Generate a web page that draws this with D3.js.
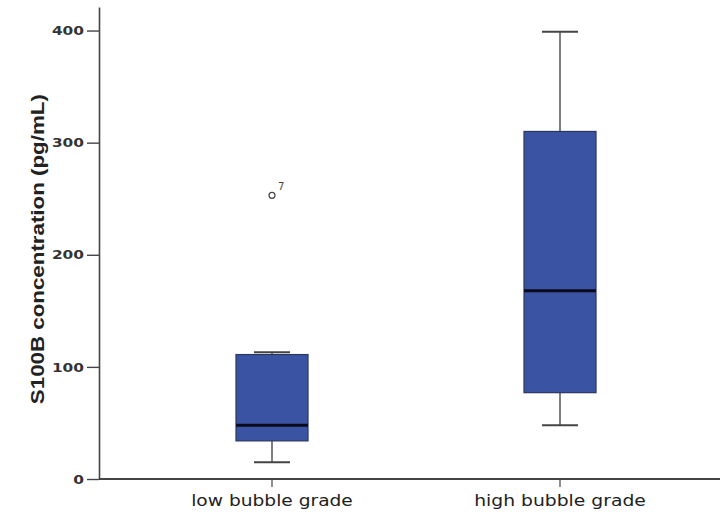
<!DOCTYPE html>
<html>
<head>
<meta charset="utf-8">
<script src="https://cdn.jsdelivr.net/npm/d3@7"></script>
<style>
    body{margin:0;background:#fff;}
</style>
</head>
<body>
<div id="chart"></div>
<script>
// box plot values (pg/mL)
var categories = ["low bubble grade", "high bubble grade"];
var whiskerLow = [15, 48];
var q1 = [34, 77];
var median = [48, 168];
var q3 = [111, 310];
var whiskerHigh = [113, 399];

var outlierCategory = ["low bubble grade"];
var outlierValues = [253];
var outlierLabels = ["7"];

var yTicks = [0, 100, 200, 300, 400];

var width = 720, height = 512;

var svg = d3.select("#chart").append("svg")
    .attr("width", width)
    .attr("height", height);

var y = d3.scaleLinear().domain([0, 421]).range([479, 7]);
var x = d3.scaleBand().domain(categories).range([128, 704])
    .paddingInner(0.75).paddingOuter(0.375);

var axisColor = "#444";

// y axis
var yAxis = d3.axisLeft(y).tickValues(yTicks).tickSize(12).tickSizeOuter(0).tickPadding(3);
var gy = svg.append("g").attr("transform", "translate(99,0)").call(yAxis);
gy.select(".domain").attr("stroke", axisColor).attr("stroke-width", 1.6);
gy.selectAll(".tick line").attr("stroke", axisColor).attr("stroke-width", 1.4);
gy.selectAll(".tick text")
    .attr("font-family", "DejaVu Sans")
    .attr("font-weight", "bold")
    .attr("font-size", 13)
    .attr("fill", "#333")
    .attr("textLength", function(d){ return String(d).length * 10.7; })
    .attr("lengthAdjust", "spacingAndGlyphs");

// x axis
var xAxis = d3.axisBottom(x).tickSize(8).tickPadding(8).tickSizeOuter(0);
var gx = svg.append("g").attr("transform", "translate(0,479)").call(xAxis);
gx.select(".domain").remove();
gx.selectAll(".tick line").attr("stroke", axisColor).attr("stroke-width", 1.2);
gx.selectAll(".tick text")
    .attr("font-family", "DejaVu Sans")
    .attr("font-size", 15)
    .attr("fill", "#222")
    .attr("textLength", function(d){ return d.length * 10.1; })
    .attr("lengthAdjust", "spacingAndGlyphs");
svg.append("line")
    .attr("x1", 99).attr("x2", width)
    .attr("y1", y(0)).attr("y2", y(0))
    .attr("stroke", axisColor).attr("stroke-width", 1.8);

// y title
svg.append("text")
    .attr("transform", "translate(44," + y(205) + ") rotate(-90)")
    .attr("text-anchor", "middle")
    .attr("font-family", "Liberation Sans")
    .attr("font-weight", "bold")
    .attr("font-size", 18)
    .attr("fill", "#222")
    .attr("textLength", 310)
    .attr("lengthAdjust", "spacingAndGlyphs")
    .text("S100B concentration (pg/mL)");

// boxes
var bw = x.bandwidth();
var boxes = svg.selectAll("g.box").data(categories).enter().append("g").attr("class", "box");

boxes.append("line")
    .attr("x1", function(d){ return x(d) + bw / 2; })
    .attr("x2", function(d){ return x(d) + bw / 2; })
    .attr("y1", function(d, i){ return y(whiskerHigh[i]); })
    .attr("y2", function(d, i){ return y(q3[i]); })
    .attr("stroke", "#555").attr("stroke-width", 1.5);
boxes.append("line")
    .attr("x1", function(d){ return x(d) + bw / 2; })
    .attr("x2", function(d){ return x(d) + bw / 2; })
    .attr("y1", function(d, i){ return y(q1[i]); })
    .attr("y2", function(d, i){ return y(whiskerLow[i]); })
    .attr("stroke", "#555").attr("stroke-width", 1.5);

// caps
[whiskerHigh, whiskerLow].forEach(function(arr){
    boxes.append("line")
        .attr("x1", function(d){ return x(d) + bw / 4; })
        .attr("x2", function(d){ return x(d) + bw * 3 / 4; })
        .attr("y1", function(d, i){ return y(arr[i]); })
        .attr("y2", function(d, i){ return y(arr[i]); })
        .attr("stroke", "#444").attr("stroke-width", 2);
});

boxes.append("rect")
    .attr("x", function(d){ return x(d); })
    .attr("y", function(d, i){ return y(q3[i]); })
    .attr("width", bw)
    .attr("height", function(d, i){ return y(q1[i]) - y(q3[i]); })
    .attr("fill", "#3a53a3")
    .attr("stroke", "#2a3560").attr("stroke-width", 1.2);

boxes.append("line")
    .attr("x1", function(d){ return x(d); })
    .attr("x2", function(d){ return x(d) + bw; })
    .attr("y1", function(d, i){ return y(median[i]); })
    .attr("y2", function(d, i){ return y(median[i]); })
    .attr("stroke", "#0a0a1a").attr("stroke-width", 3);

// outliers
var outs = svg.selectAll("g.outlier").data(outlierValues).enter().append("g");
outs.append("circle")
    .attr("cx", function(d, i){ return x(outlierCategory[i]) + bw / 2; })
    .attr("cy", function(d){ return y(d); })
    .attr("r", 3)
    .attr("fill", "none").attr("stroke", "#444").attr("stroke-width", 1.2);
outs.append("text")
    .attr("x", function(d, i){ return x(outlierCategory[i]) + bw / 2 + 6; })
    .attr("y", function(d){ return y(d) - 5; })
    .attr("font-family", "DejaVu Sans")
    .attr("font-size", 10)
    .attr("fill", "#444")
    .text(function(d, i){ return outlierLabels[i]; });
</script>
</body>
</html>
